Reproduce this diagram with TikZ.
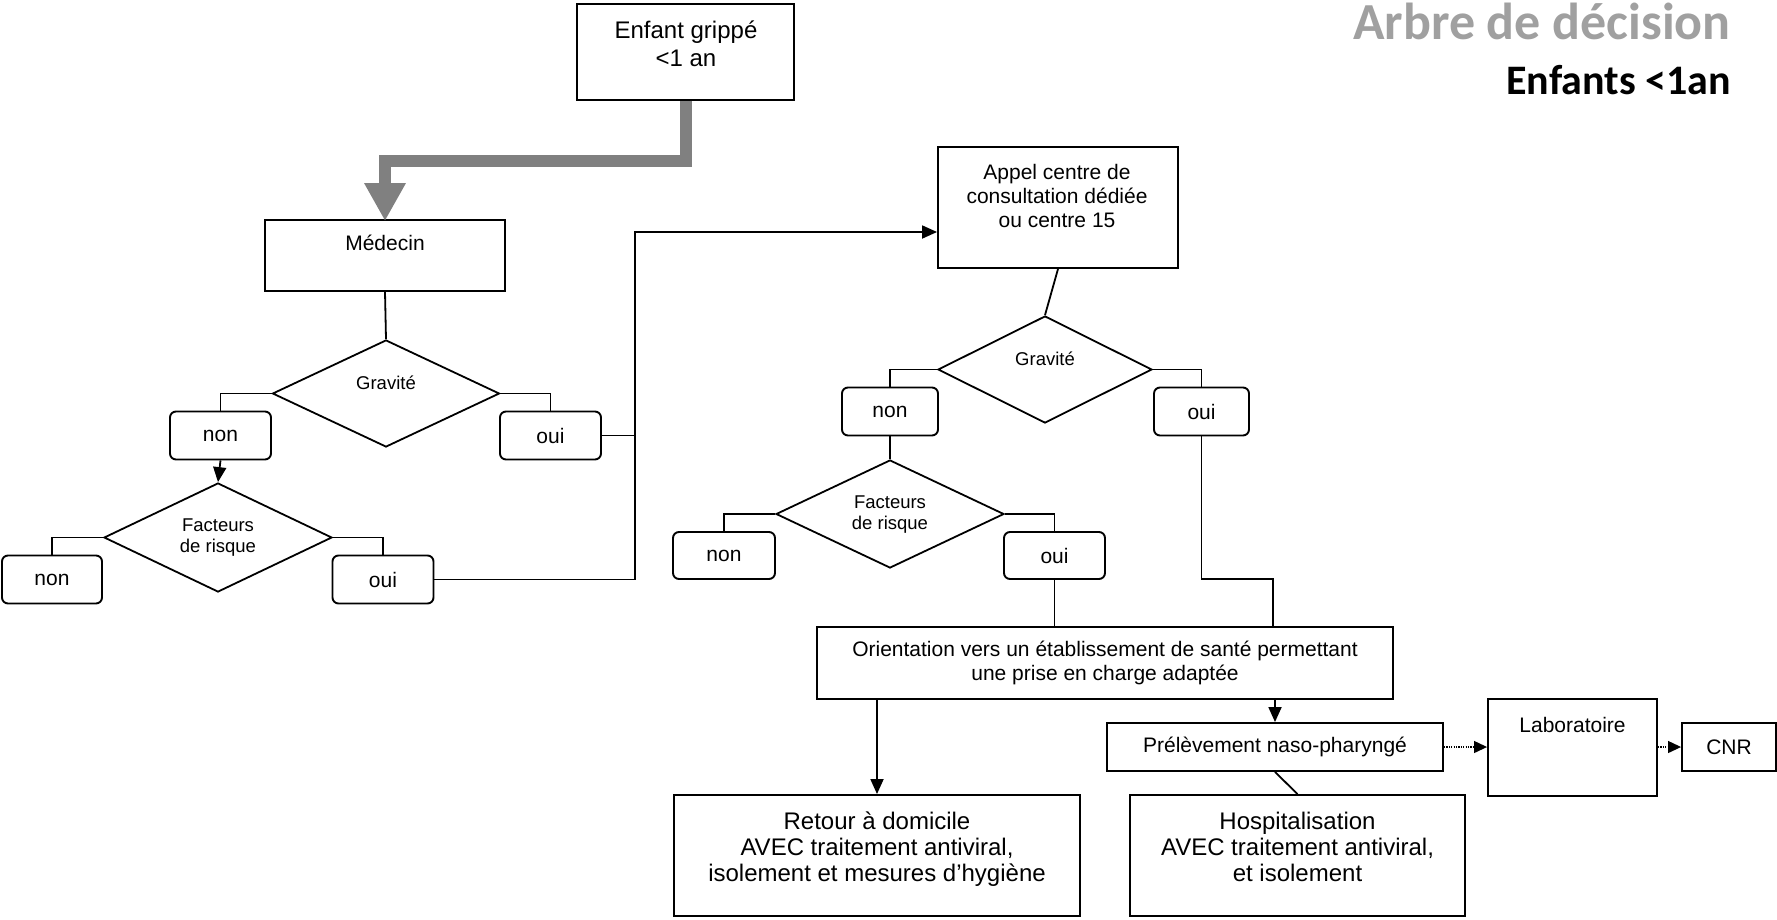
\documentclass[tikz,border=0pt]{standalone}
\usepackage{fontspec}
\setmainfont{Liberation Sans}
\newfontfamily\titlefont{Carlito}
\usetikzlibrary{arrows.meta,shapes.geometric}
\definecolor{arrowgray}{HTML}{808080}
\definecolor{titlegray}{HTML}{A0A0A0}
\newcommand{\fsA}{\fontsize{21}{24}\selectfont}
\newcommand{\fsB}{\fontsize{24}{28}\selectfont}
\newcommand{\fsD}{\fontsize{24}{26}\selectfont}
\newcommand{\fsC}{\fontsize{18.5}{21}\selectfont}
\begin{document}
\begin{tikzpicture}[x=1pt,y=-1pt,
  box/.style={draw, line width=1.9pt, inner sep=0pt, align=center},
  rbox/.style={box, rounded corners=6pt, font=\fsA, minimum width=101pt, minimum height=48pt},
  dia/.style={draw, diamond, line width=1.8pt, inner sep=0pt},
  txt/.style={align=center, inner sep=0pt},
  conn/.style={line width=1.8pt},
  arr/.style={conn, -{Triangle[length=15pt,width=13pt]}},
  dotarr/.style={line width=1.2pt, dash pattern=on 1.2pt off 1.2pt, -{Triangle[length=13pt,width=12pt]}},
  bigarr/.style={draw=arrowgray, line width=12pt, line join=miter, -{Triangle[length=38pt,width=39pt]}},
  endbox/.style={box, font=\fsD, text depth=18pt, minimum height=121pt}
]
\useasboundingbox (0,0) rectangle (1777,919);

% title
\node[anchor=base east, inner sep=0pt, text=titlegray, font=\titlefont\bfseries\fontsize{52}{60}\selectfont] (title1) at (1731,39) {Arbre de décision};
\node[anchor=base east, inner sep=0pt, font=\titlefont\bfseries\fontsize{42}{50}\selectfont] (title2) at (1731,94) {Enfants <1an};

% left branch
\node[box, minimum width=217pt, minimum height=96pt] (enf) at (685.5,52) {};
\node[txt, font=\fsB] (enft) at (686,44) {Enfant grippé\\<1 an};
\node[box, minimum width=240pt, minimum height=71pt] (med) at (385,255.5) {};
\node[txt, font=\fsA] (medt) at (385,243) {Médecin};
\draw[bigarr] (enf.south) -- ++(0,60) -| ([yshift=-2pt]med.north);

\node[dia, minimum width=227pt, minimum height=107pt] (g1) at (386,393.5) {};
\node[txt, font=\fsC] (g1t) at (386,383) {Gravité};
\draw[conn] (med.south) -- (g1.north);

\node[rbox] (non1) at (220.5,435.5) {non};
\node[rbox] (oui1) at (550.5,435.5) {oui};
\draw[conn] (g1.west) -| (non1.north);
\draw[conn] (g1.east) -| (oui1.north);

\node[dia, minimum width=228pt, minimum height=109pt] (f1) at (218,537.5) {};
\node[txt, font=\fsC] (f1t) at (218,538) {Facteurs\\de risque};
\draw[arr] (non1.south) -- (f1.north);

\node[rbox, minimum width=100pt] (non2) at (52,579.5) {non};
\node[rbox] (oui2) at (383,579.5) {oui};
\draw[conn] (f1.west) -| (non2.north);
\draw[conn] (f1.east) -| (oui2.north);

% right branch
\node[box, minimum width=240pt, minimum height=121pt] (appel) at (1058,207.5) {};
\node[txt, font=\fsA] (appelt) at (1057,196) {Appel centre de\\consultation dédiée\\ou centre 15};
\coordinate (j) at (635,232);
\draw[conn] (oui1.east) -- (oui1.east -| j);
\draw[arr] (oui2.east) -| (j) -- (appel.west |- j);

\node[dia, minimum width=214pt, minimum height=107pt] (g2) at (1045,369.5) {};
\node[txt, font=\fsC] (g2t) at (1045,359) {Gravité};
\draw[conn] (appel.south) -- (g2.north);

\node[rbox, minimum width=96pt] (non3) at (890,411.5) {non};
\node[rbox, minimum width=95pt] (oui3) at (1201.5,411.5) {oui};
\draw[conn] (g2.west) -| (non3.north);
\draw[conn] (g2.east) -| (oui3.north);

\node[dia, minimum width=228pt, minimum height=108pt] (f2) at (890,514) {};
\node[txt, font=\fsC] (f2t) at (890,515) {Facteurs\\de risque};
\draw[conn] (non3.south) -- (f2.north);

\node[rbox, minimum width=102pt, minimum height=47pt] (non4) at (724,555.5) {non};
\node[rbox, minimum width=101pt, minimum height=47pt] (oui4) at (1054.5,555.5) {oui};
\draw[conn] (f2.west) -| (non4.north);
\draw[conn] (f2.east) -| (oui4.north);

\node[box, font=\fsA, minimum width=576pt, minimum height=72pt] (orient) at (1105,663) {Orientation vers un établissement de santé permettant\\une prise en charge adaptée};
\draw[conn] (oui4.south) -- (oui4.south |- orient.north);
\coordinate (k) at (1273,579);
\draw[conn] (oui3.south) |- (k) -- (k |- orient.north);

\node[endbox, minimum width=406pt] (retour) at (877,855.5) {Retour à domicile\\AVEC traitement antiviral,\\isolement et mesures d’hygiène};
\draw[arr] (retour.north |- orient.south) -- (retour.north);

\node[box, font=\fsA, minimum width=336pt, minimum height=48pt] (prel) at (1275,747) {Prélèvement naso-pharyngé};
\draw[arr] (prel.north |- orient.south) -- (prel.north);

\node[endbox, minimum width=335pt] (hosp) at (1297.5,855.5) {Hospitalisation\\AVEC traitement antiviral,\\et isolement};
\draw[conn] (prel.south) -- (hosp.north);

\node[box, minimum width=169pt, minimum height=97pt] (lab) at (1572.5,747.5) {};
\node[txt, font=\fsA] (labt) at (1572.5,725) {Laboratoire};
\draw[dotarr] (prel.east) -- (lab.west |- prel.east);

\node[box, font=\fsA, minimum width=94pt, minimum height=48pt] (cnr) at (1729,747) {CNR};
\draw[dotarr] (lab.east |- cnr.west) -- (cnr.west);
\end{tikzpicture}
\end{document}
